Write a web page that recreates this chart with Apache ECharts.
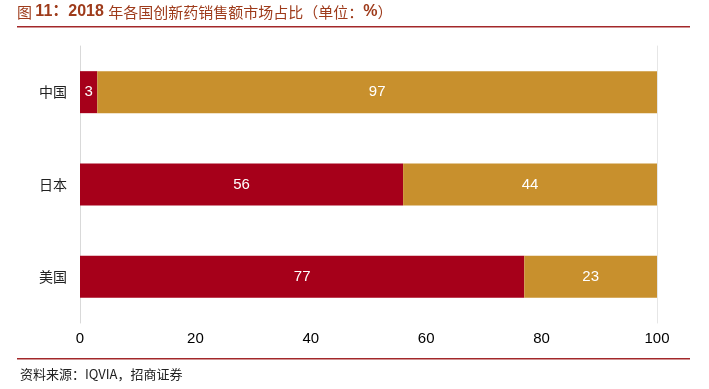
<!DOCTYPE html>
<html><head><meta charset="utf-8">
<script src="https://cdn.jsdelivr.net/npm/echarts@6/dist/echarts.min.js"></script>
<style>html,body{margin:0;padding:0;background:#fff}#c{width:709px;height:389px}</style>
</head><body><div id="c"></div>
<script>
const categories = ['美国', '日本', '中国'];
const domestic = [77, 56, 3];
const foreign = [23, 44, 97];
const xTicks = [0, 20, 40, 60, 80, 100];

const chart = echarts.init(document.getElementById('c'));
const font = '"Liberation Sans", Arial, "Noto Sans CJK SC", sans-serif';
chart.setOption({
  animation: false,
  textStyle: { fontFamily: font },
  grid: { left: 80, right: 52, top: 46, bottom: 66 },
  xAxis: {
    type: 'value', min: xTicks[0], max: xTicks[xTicks.length - 1], interval: 20,
    axisLine: { show: false }, axisTick: { show: false }, splitLine: { show: false },
    axisLabel: { color: '#000', fontSize: 15, margin: 8, fontFamily: font }
  },
  yAxis: [{
    type: 'category', data: categories,
    axisLine: { show: true, lineStyle: { color: '#d9d9d9', width: 1 } },
    axisTick: { show: false },
    axisLabel: { color: '#222', fontSize: 14, margin: 13, fontFamily: '"Noto Sans CJK SC", sans-serif' }
  }, {
    type: 'category', data: categories, position: 'right',
    axisLine: { show: true, lineStyle: { color: '#e6e6e6', width: 1 } },
    axisTick: { show: false }, axisLabel: { show: false }
  }],
  series: [{
    type: 'bar', stack: 's', data: domestic, barWidth: 42,
    itemStyle: { color: '#A6001A' },
    label: { show: true, position: 'inside', color: '#fff', fontSize: 15, fontFamily: font }
  }, {
    type: 'bar', stack: 's', data: foreign, barWidth: 42,
    itemStyle: { color: '#C8902D' },
    label: { show: true, position: 'inside', color: '#fff', fontSize: 15, fontFamily: font }
  }],
  graphic: [
    { type: 'text', left: 17, top: 4, style: {
      text: '{n|图 }{b|11：2018 }{n|年各国创新药销售额市场占比（单位：}{b|%}{n|）}',
      rich: {
        n: { fontSize: 15, fill: '#9E3B1B', fontFamily: '"Noto Sans CJK SC", sans-serif' },
        b: { fontSize: 16, fontWeight: 'bold', fill: '#9E3B1B', fontFamily: font }
      }
    } },
    { type: 'rect', shape: { x: 17, y: 26, width: 673, height: 1.5 }, style: { fill: '#A3282A' } },
    { type: 'rect', shape: { x: 17, y: 358, width: 673, height: 1.5 }, style: { fill: '#A3282A' } },
    { type: 'text', left: 20, top: 368, style: {
      text: '资料来源：IQVIA，招商证券', fontSize: 13, fill: '#222',
      fontFamily: '"Noto Sans CJK SC", sans-serif'
    } }
  ]
});
</script></body></html>
